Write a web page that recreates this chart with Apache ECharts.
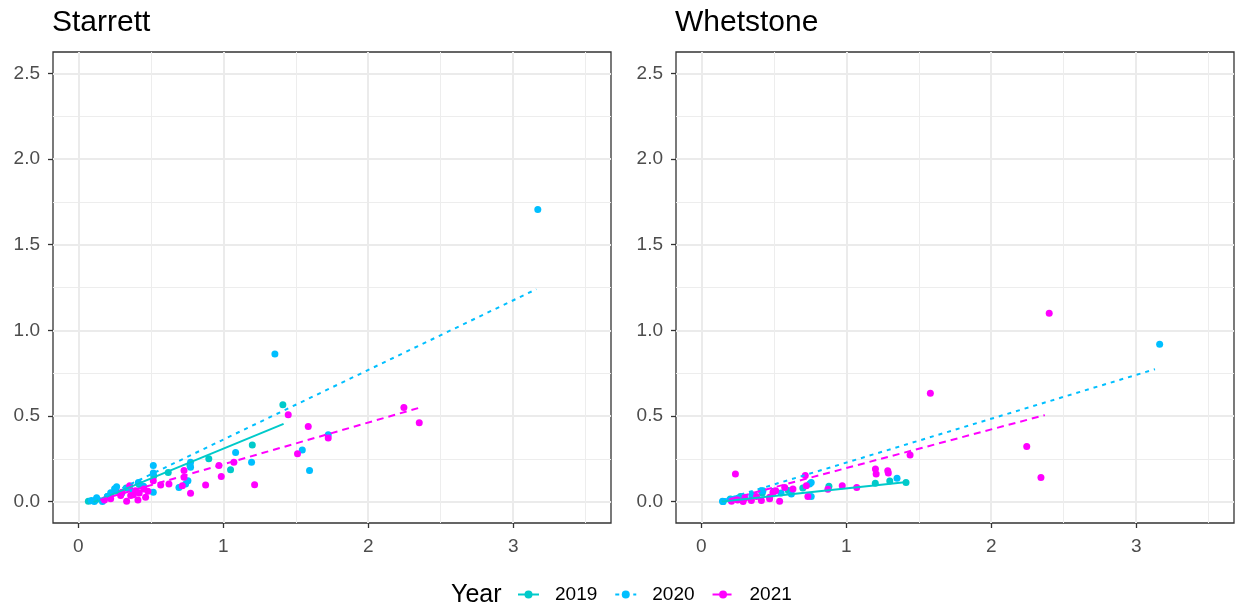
<!DOCTYPE html>
<html>
<head>
<meta charset="utf-8">
<script src="https://cdn.jsdelivr.net/npm/echarts@6/dist/echarts.min.js"></script>
<style>
html,body{margin:0;padding:0;background:#fff;}
#chart{width:1238px;height:612px;}
</style>
</head>
<body>
<div id="chart"></div>
<script>
// ---- data ----
const panels = ['Starrett', 'Whetstone'];
const years = ['2019', '2020', '2021'];
const xTicks = [0, 1, 2, 3];
const xMinor = [0.5, 1.5, 2.5, 3.5];
const yTicks = [0, 0.5, 1.0, 1.5, 2.0, 2.5];
const yMinor = [0.25, 0.75, 1.25, 1.75, 2.25];

const starrett2019 = [[0.069,0.002],[0.12,0.01],[0.2,0.03],[0.26,0.06],[0.33,0.08],[0.42,0.1],[0.52,0.15],[0.62,0.17],[0.77,0.21],[0.9,0.25],[1.05,0.186],[1.2,0.33],[1.411,0.565]];
const starrett2020 = [[3.17,1.706],[1.356,0.862],[1.724,0.39],[1.545,0.301],[1.595,0.182],[1.195,0.229],[1.085,0.287],[0.774,0.229],[0.774,0.2],[0.756,0.122],[0.694,0.083],[0.74,0.103],[0.517,0.21],[0.517,0.167],[0.517,0.054],[0.414,0.112],[0.264,0.087],[0.25,0.075],[0.223,0.051],[0.126,0.022],[0.166,0.0],[0.09,0.006],[0.11,0.0],[0.2,0.03],[0.3,0.05],[0.35,0.08],[0.45,0.09],[0.38,0.06]];
const starrett2021 = [[1.448,0.507],[1.586,0.439],[1.724,0.371],[1.512,0.28],[2.246,0.549],[2.352,0.46],[1.216,0.099],[0.97,0.21],[0.986,0.146],[0.878,0.097],[1.073,0.229],[0.774,0.048],[0.729,0.181],[0.729,0.142],[0.568,0.097],[0.625,0.103],[0.717,0.093],[0.517,0.122],[0.354,0.093],[0.464,0.025],[0.411,0.01],[0.333,0.002],[0.395,0.064],[0.452,0.074],[0.292,0.035],[0.223,0.016],[0.361,0.035],[0.18,0.01],[0.42,0.05],[0.48,0.06],[0.3,0.055],[0.38,0.04]];

const whetstone2019 = [[0.15,0.0],[0.2,0.015],[0.27,0.03],[0.35,0.04],[0.42,0.05],[0.5,0.06],[0.6,0.065],[0.7,0.08],[0.88,0.09],[1.2,0.107],[1.412,0.112],[1.3,0.12]];
const whetstone2020 = [[3.162,0.918],[1.35,0.136],[0.758,0.112],[0.758,0.029],[0.747,0.103],[0.621,0.045],[0.425,0.064],[0.414,0.064],[0.146,0.002],[0.15,0.0],[0.2,0.012],[0.25,0.02],[0.3,0.025],[0.55,0.05],[0.35,0.035]];
const whetstone2021 = [[2.40,1.099],[1.58,0.633],[2.245,0.322],[2.343,0.14],[1.44,0.272],[0.235,0.161],[0.717,0.153],[1.201,0.19],[1.206,0.161],[1.286,0.18],[1.29,0.167],[0.972,0.093],[1.072,0.083],[0.873,0.072],[0.735,0.029],[0.724,0.093],[0.575,0.083],[0.513,0.064],[0.54,0.002],[0.471,0.016],[0.208,0.002],[0.288,0.0],[0.345,0.006],[0.414,0.006],[0.471,0.025],[0.632,0.074],[0.494,0.054],[0.25,0.01],[0.3,0.02],[0.38,0.03]];

// fitted trend lines (end points)
const starrettFit2019 = [[0.1,-0.005],[1.416,0.454]];
const starrettFit2020 = [[0.08,-0.012],[3.16,1.24]];
const starrettFit2021 = [[0.15,0.01],[2.35,0.547]];
const whetstoneFit2019 = [[0.14,0.0],[1.42,0.115]];
const whetstoneFit2020 = [[0.15,0.01],[3.13,0.773]];
const whetstoneFit2021 = [[0.2,0.015],[2.37,0.505]];

// ---- styling ----
const colors = {'2019':'#00CACA','2020':'#00BFFF','2021':'#FF00FF'};
const lineTypes = {'2019':'solid','2020':[4,5],'2021':[7,5]};
const FONT = 'Liberation Sans, Arial, sans-serif';

const points = [[starrett2019, starrett2020, starrett2021],[whetstone2019, whetstone2020, whetstone2021]];
const fits = [[starrettFit2019, starrettFit2020, starrettFit2021],[whetstoneFit2019, whetstoneFit2020, whetstoneFit2021]];

const gridLefts = [53, 676];
const grids = gridLefts.map(l => ({left:l, top:52, width:558, height:471, show:true, borderColor:'#333333', borderWidth:1.3, backgroundColor:'transparent', containLabel:false}));

const xAxes = [], yAxes = [];
gridLefts.forEach((_, g) => {
  xAxes.push({type:'value', gridIndex:g, min:-0.175, max:3.675, position:'bottom',
    axisLine:{show:false, onZero:false},
    axisTick:{show:true, customValues:xTicks, length:5, lineStyle:{color:'#333333', width:1.3}},
    axisLabel:{customValues:xTicks, margin:14, color:'#4D4D4D', fontSize:19, fontFamily:FONT},
    splitLine:{show:true, lineStyle:{color:'#EBEBEB', width:2}}});
  xAxes.push({type:'value', gridIndex:g, min:-0.175, max:3.675, position:'top',
    axisLine:{show:false, onZero:false}, axisTick:{show:false, customValues:xMinor}, axisLabel:{show:false, customValues:xMinor},
    splitLine:{show:true, lineStyle:{color:'#EDEDED', width:1}}});
  yAxes.push({type:'value', gridIndex:g, min:-0.125, max:2.625, position:'left',
    axisLine:{show:false, onZero:false},
    axisTick:{show:true, customValues:yTicks, length:5, lineStyle:{color:'#333333', width:1.3}},
    axisLabel:{customValues:yTicks, margin:13, color:'#4D4D4D', fontSize:19, fontFamily:FONT, formatter:v=>v.toFixed(1)},
    splitLine:{show:true, lineStyle:{color:'#EBEBEB', width:2}}});
  yAxes.push({type:'value', gridIndex:g, min:-0.125, max:2.625, position:'right',
    axisLine:{show:false, onZero:false}, axisTick:{show:false, customValues:yMinor}, axisLabel:{show:false, customValues:yMinor},
    splitLine:{show:true, lineStyle:{color:'#EDEDED', width:1}}});
});

const series = [];
// line series first (legend icons come from them)
[0,1].forEach(p => {
  years.forEach((yr, i) => {
    series.push({name:yr, type:'line', xAxisIndex:p*2, yAxisIndex:p*2, data:fits[p][i],
      symbol:'circle', symbolSize:7, showSymbol:false, z:4, silent:true, animation:false,
      itemStyle:{color:colors[yr]},
      lineStyle:{color:colors[yr], width:2, type:lineTypes[yr]}});
  });
});
[0,1].forEach(p => {
  years.forEach((yr, i) => {
    series.push({name:yr, type:'scatter', xAxisIndex:p*2, yAxisIndex:p*2, data:points[p][i],
      symbol:'circle', symbolSize:7, z:3, animation:false,
      itemStyle:{color:colors[yr], opacity:1}});
  });
});

const option = {
  backgroundColor:'#ffffff',
  animation:false,
  title:[
    {text:panels[0], left:52, top:8, padding:0, textStyle:{fontSize:30, fontWeight:'normal', color:'#000', fontFamily:FONT}},
    {text:panels[1], left:675, top:8, padding:0, textStyle:{fontSize:30, fontWeight:'normal', color:'#000', fontFamily:FONT}},
    {text:'Year', left:451, top:583, padding:0, textStyle:{fontSize:25, fontWeight:'normal', color:'#000', fontFamily:FONT}}
  ],
  legend:{
    data:years, left:517, top:585, padding:0, itemWidth:21, itemHeight:10, itemGap:17,
    textStyle:{fontSize:19, color:'#000', fontFamily:FONT, padding:[0,0,0,11]},
    selectedMode:false
  },
  grid:grids,
  xAxis:xAxes,
  yAxis:yAxes,
  series:series
};

const chart = echarts.init(document.getElementById('chart'), null, {renderer:'canvas'});
chart.setOption(option);
</script>
</body>
</html>
